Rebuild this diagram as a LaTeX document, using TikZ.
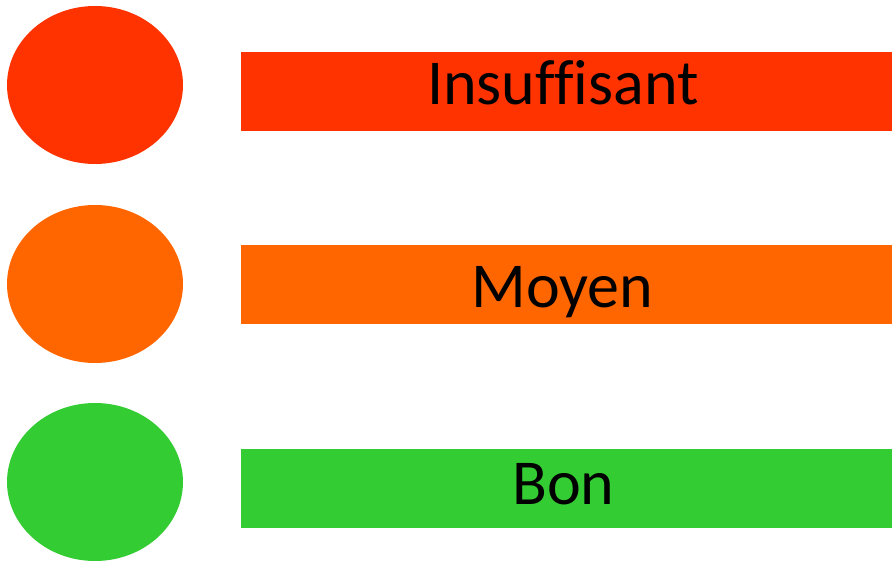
\documentclass[tikz,border=0pt]{standalone}
\usepackage{fontspec}
\setmainfont{Carlito}[Ligatures=NoCommon]
\usetikzlibrary{shapes.geometric}
\definecolor{insred}{HTML}{FF3300}
\definecolor{moyorange}{HTML}{FF6600}
\definecolor{bongreen}{HTML}{33CC33}
\tikzset{
  lamp/.style={ellipse,fill=#1,minimum width=176pt,minimum height=158pt,inner sep=0pt},
  levelbar/.style={rectangle,fill=#1,minimum width=651pt,minimum height=79pt,inner sep=0pt},
  leveltext/.style={anchor=base,inner sep=0pt,font=\fontsize{64}{64}\selectfont}
}
\begin{document}
\begin{tikzpicture}[x=1pt,y=1pt]
  \useasboundingbox (0,0) rectangle (892,562);
  % lights on the left
  \node[lamp=insred] (lampins) at (95,477) {};
  \node[lamp=moyorange] (lampmoy) at (95,278) {};
  \node[lamp=bongreen] (lampbon) at (95,80) {};
  % bars
  \node[levelbar=insred] (barins) at (566.5,470.5) {};
  \node[levelbar=moyorange] (barmoy) at (566.5,277.5) {};
  \node[levelbar=bongreen] (barbon) at (566.5,73.5) {};
  % labels
  \node[leveltext] (txtins) at (563,457) {Insuffisant};
  \node[leveltext] (txtmoy) at (562.5,254) {Moyen};
  \node[leveltext] (txtbon) at (563.5,57) {Bon};
\end{tikzpicture}
\end{document}
